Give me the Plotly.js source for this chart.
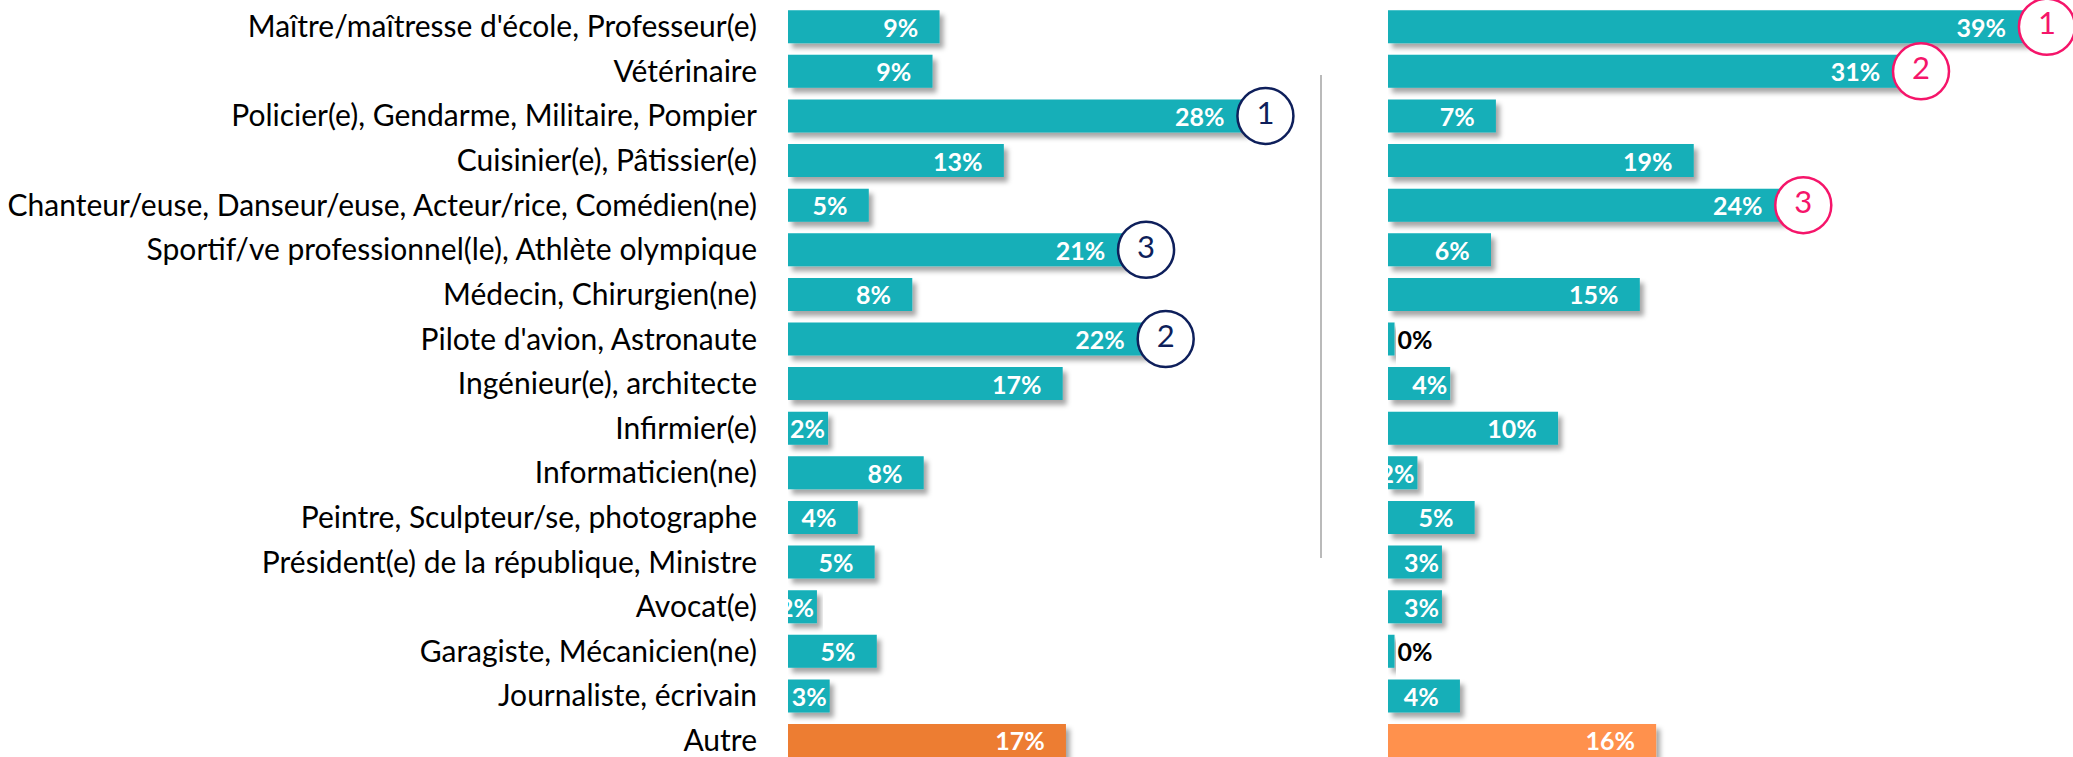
<!DOCTYPE html>
<html>
<head>
<meta charset="utf-8">
<script src="https://cdn.plot.ly/plotly-3.0.1.min.js"></script>
<style>html,body{margin:0;padding:0;background:#fff;}#chart{width:2073px;height:757px;}</style>
</head>
<body>
<div id="chart"></div>
<script>
const categories = [
  "Maître/maîtresse d'école, Professeur(e)",
  "Vétérinaire",
  "Policier(e), Gendarme, Militaire, Pompier",
  "Cuisinier(e), Pâtissier(e)",
  "Chanteur/euse, Danseur/euse, Acteur/rice, Comédien(ne)",
  "Sportif/ve professionnel(le), Athlète olympique",
  "Médecin, Chirurgien(ne)",
  "Pilote d'avion, Astronaute",
  "Ingénieur(e), architecte",
  "Infirmier(e)",
  "Informaticien(ne)",
  "Peintre, Sculpteur/se, photographe",
  "Président(e) de la république, Ministre",
  "Avocat(e)",
  "Garagiste, Mécanicien(ne)",
  "Journaliste, écrivain",
  "Autre"
];
const valuesLeft  = [9.27, 8.84, 28.0, 13.2, 4.94, 20.7, 7.6, 21.9, 16.8, 2.45, 8.3, 4.27, 5.3, 1.77, 5.43, 2.55, 17.0];
const valuesRight = [39.1, 31.4, 6.6, 18.7, 24.2, 6.3, 15.4, 0.4, 3.8, 10.4, 1.8, 5.3, 3.3, 3.3, 0.4, 4.4, 16.4];
const rankLabels = ["1", "2", "3"];

const TEAL = "#14AFB8";
const NAVY = "#0E1F5B";
const PINK = "#F5156A";
const FONT = "Lato, 'Open Sans', sans-serif";
const PXPERPCT = 16.35;
const W = 2073, H = 757;
const NB = "\u00a0";

function barText(v) {
  const t = Math.round(v) + "%";
  return v >= 4 ? t + NB + NB + NB : t;
}
function barTrace(values, otherColor, xa, ya) {
  return {
    type: "bar", orientation: "h",
    x: values, y: categories,
    xaxis: xa, yaxis: ya,
    marker: {color: categories.map(c => c === "Autre" ? otherColor : TEAL), line: {width: 0}},
    text: values.map(barText),
    textposition: values.map(v => v < 1 ? "outside" : "inside"),
    insidetextanchor: "end",
    textangle: 0,
    constraintext: "none",
    cliponaxis: false,
    textfont: {family: FONT, size: 25, weight: 700, color: values.map(v => v < 1 ? "#000" : "#fff")},
    hoverinfo: "skip"
  };
}
function topThree(values) {
  return values.map((v, i) => i).filter(i => categories[i] !== "Autre")
    .sort((a, b) => values[b] - values[a]).slice(0, 3);
}
function rankTrace(values, color, xa, ya) {
  const idx = topThree(values);
  return {
    type: "scatter", mode: "markers+text",
    x: idx.map(i => values[i] + 1.2),
    y: idx.map(i => categories[i]),
    text: rankLabels,
    textposition: "middle center",
    textfont: {family: FONT, size: 31, color: color},
    marker: {size: 56, color: "#fff", line: {color: color, width: 2.5}},
    cliponaxis: false, xaxis: xa, yaxis: ya, hoverinfo: "skip"
  };
}

const data = [
  barTrace(valuesLeft, "#ED7D31", "x", "y"),
  barTrace(valuesRight, "#FF914D", "x2", "y2"),
  rankTrace(valuesLeft, NAVY, "x", "y"),
  rankTrace(valuesRight, PINK, "x2", "y2")
];

const leftStart = 788, leftEnd = 1300, rightStart = 1388;
const yRange = [16.37, -0.599];
const layout = {
  width: W, height: H,
  margin: {l: 0, r: 0, t: 0, b: 0, pad: 0},
  paper_bgcolor: "#fff", plot_bgcolor: "rgba(0,0,0,0)",
  showlegend: false,
  bargap: 0.26,
  font: {family: FONT, color: "#000"},
  xaxis: {domain: [leftStart / W, leftEnd / W], range: [0, (leftEnd - leftStart) / PXPERPCT], visible: false, fixedrange: true},
  xaxis2: {domain: [rightStart / W, 1], range: [0, (W - rightStart) / PXPERPCT], visible: false, fixedrange: true},
  yaxis: {type: "category", categoryorder: "array", categoryarray: categories, range: yRange,
          anchor: "x", showgrid: false, zeroline: false, showline: false, ticks: "",
          ticklabelstandoff: 30, tickfont: {family: FONT, size: 30, color: "#000"}, fixedrange: true},
  yaxis2: {type: "category", categoryorder: "array", categoryarray: categories, range: yRange,
           anchor: "x2", matches: "y", showgrid: false, zeroline: false, showline: false, showticklabels: false, ticks: "", fixedrange: true},
  shapes: [{type: "line", xref: "paper", yref: "paper", x0: 1321 / W, x1: 1321 / W, y0: 1 - 558 / H, y1: 1 - 75 / H,
            line: {color: "#8C8C8C", width: 1.2}}]
};
Plotly.newPlot("chart", data, layout, {displayModeBar: false, staticPlot: true}).then(gd => {
  // soft drop shadow under the bars, as in the original
  const svg = gd.querySelector("svg.main-svg");
  const NS = "http://www.w3.org/2000/svg";
  let defs = svg.querySelector("defs");
  if (!defs) { defs = document.createElementNS(NS, "defs"); svg.insertBefore(defs, svg.firstChild); }
  const f = document.createElementNS(NS, "filter");
  f.setAttribute("id", "barshadow");
  f.setAttribute("x", "-10%"); f.setAttribute("y", "-30%");
  f.setAttribute("width", "130%"); f.setAttribute("height", "180%");
  const ds = document.createElementNS(NS, "feDropShadow");
  ds.setAttribute("dx", "4"); ds.setAttribute("dy", "5");
  ds.setAttribute("stdDeviation", "2.5");
  ds.setAttribute("flood-color", "#000"); ds.setAttribute("flood-opacity", "0.35");
  f.appendChild(ds); defs.appendChild(f);
  gd.querySelectorAll(".barlayer .point path").forEach(p => p.setAttribute("filter", "url(#barshadow)"));
});
</script>
</body>
</html>
